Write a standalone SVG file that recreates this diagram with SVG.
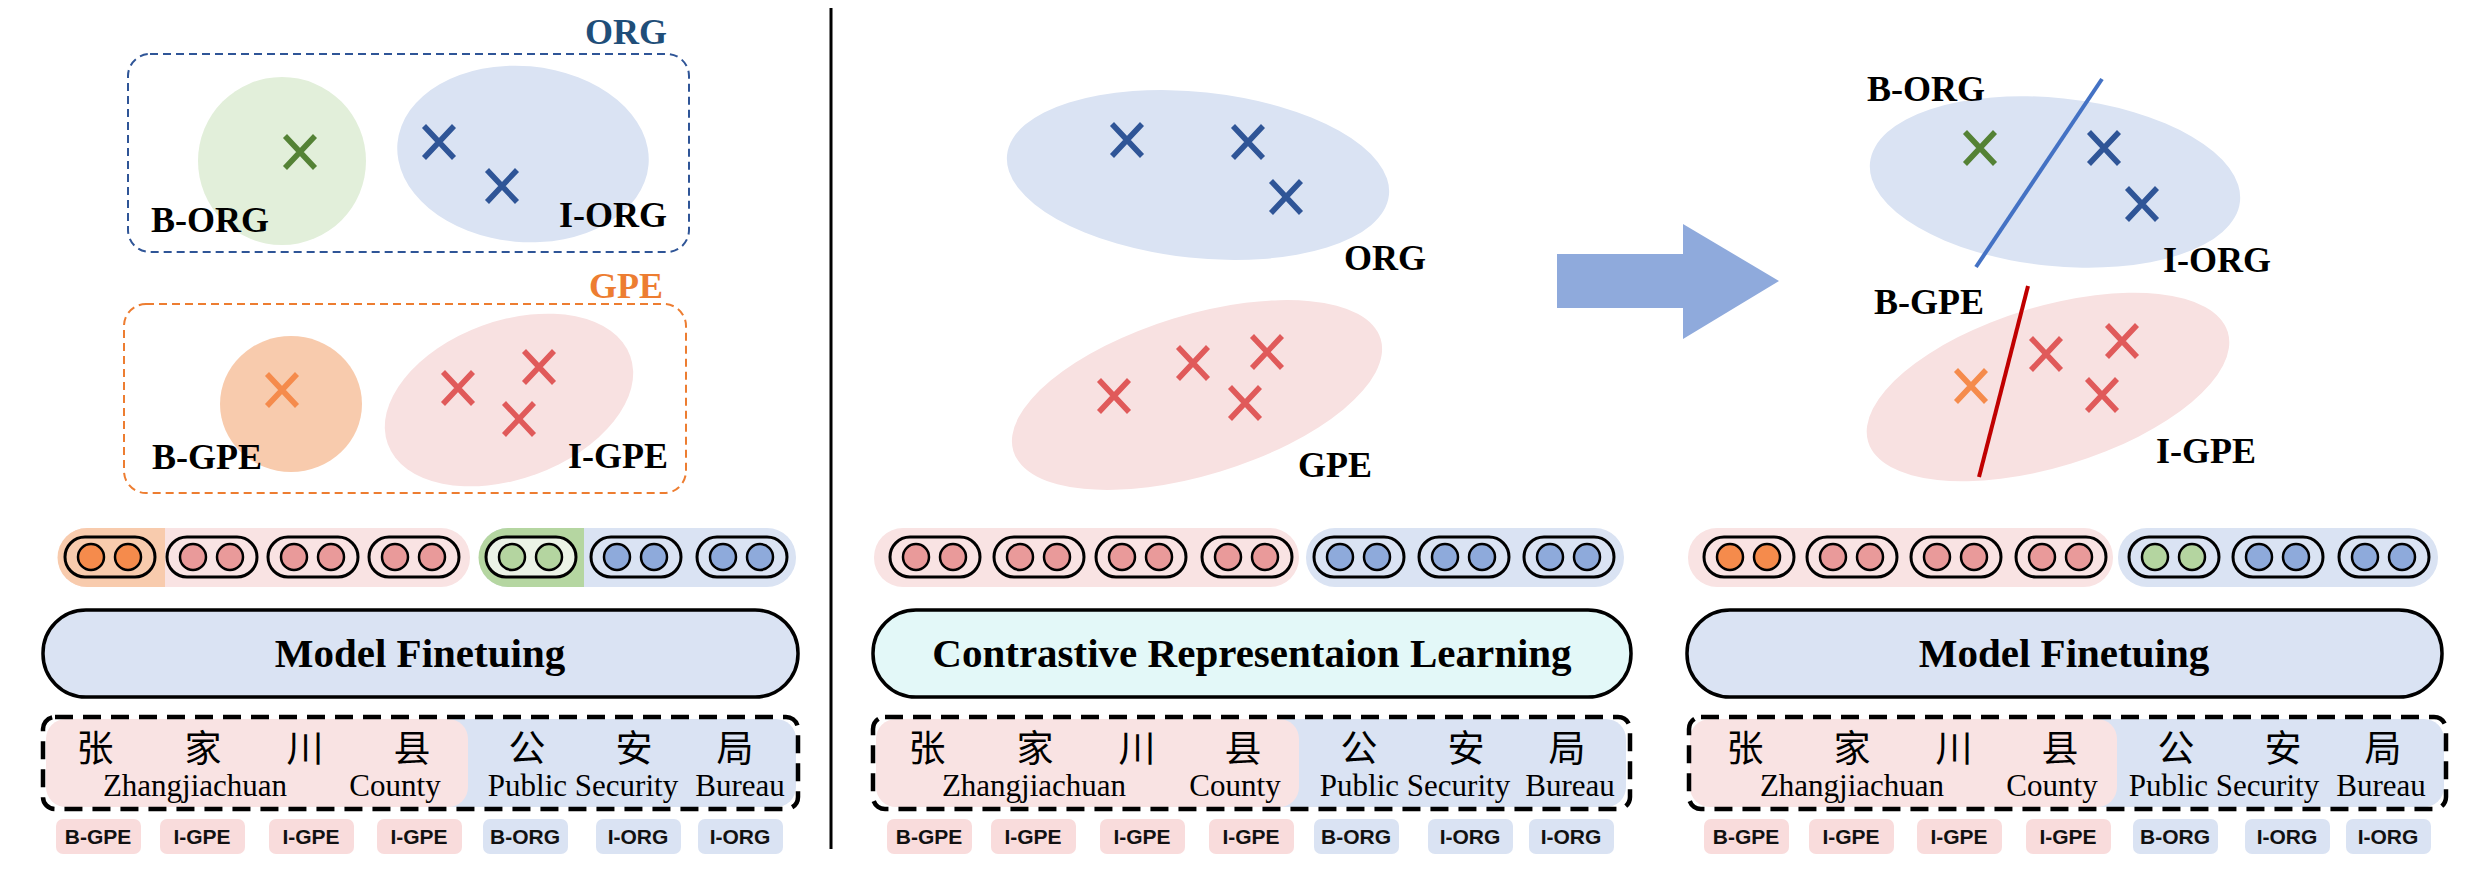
<svg xmlns="http://www.w3.org/2000/svg" width="2475" height="875" viewBox="0 0 2475 875">
<defs>
<style>
.lbl{font-family:"Liberation Serif","Times New Roman",serif;font-weight:bold;font-size:36px;fill:#000}
.big{font-family:"Liberation Serif","Times New Roman",serif;font-weight:bold;font-size:41px;fill:#000;text-anchor:middle}
.cjk{font-family:"Noto Sans CJK SC",sans-serif;font-size:37px;fill:#000;text-anchor:middle}
.en{font-family:"Liberation Serif","Times New Roman",serif;font-size:31px;fill:#000;text-anchor:middle}
.tag{font-family:"Liberation Sans",Arial,sans-serif;font-weight:bold;font-size:21px;fill:#111;text-anchor:middle}
.tp{fill:#f9dcdc}
.tb{fill:#dae3f3}
.cap{fill:none;stroke:#000;stroke-width:3}
.dot{stroke:#000;stroke-width:2.5}
.o{fill:#f58b4c}.p{fill:#e99a9a}.b{fill:#8eaadb}.g{fill:#b4d5a0}
.xg{stroke:#548235}.xb{stroke:#2f5597}.xo{stroke:#f58b4c}.xr{stroke:#e05a5a}
.x{fill:none;stroke-width:5.5}
.model{fill:#dae3f3;stroke:#000;stroke-width:3.5}
.dash{fill:none;stroke:#000;stroke-width:4.5;stroke-dasharray:18 10}
.pinkbg{fill:#f9e3e3}.bluebg{fill:#dae3f3}
</style>
<path id="X" d="M-15,-16 L15,16 M15,-16 L-15,16"/>
</defs>
<rect width="2475" height="875" fill="#fff"/>

<!-- divider -->
<line x1="831" y1="8" x2="831" y2="849" stroke="#000" stroke-width="3"/>

<!-- LEFT PANEL scatter -->
<g id="left-org-cluster">
<text x="667" y="44" class="lbl" text-anchor="end" style="fill:#1f4e79">ORG</text>
<rect x="128" y="54" width="561" height="198" rx="22" fill="none" stroke="#2f5597" stroke-width="2" stroke-dasharray="8 5"/>
<circle cx="282" cy="161" r="84" fill="#e2efda"/>
<ellipse cx="523" cy="154" rx="126" ry="88" fill="#dae3f3" transform="rotate(5 523 154)"/>
<use href="#X" x="300" y="152" class="x xg"/>
<use href="#X" x="439" y="142" class="x xb"/>
<use href="#X" x="502" y="186" class="x xb"/>
<text x="151" y="232" class="lbl">B-ORG</text>
<text x="667" y="227" class="lbl" text-anchor="end">I-ORG</text>
</g>
<g id="left-gpe-cluster">
<text x="663" y="298" class="lbl" text-anchor="end" style="fill:#ed7d31">GPE</text>
<rect x="124" y="304" width="562" height="189" rx="22" fill="none" stroke="#ed7d31" stroke-width="2" stroke-dasharray="8 5"/>
<ellipse cx="291" cy="404" rx="71" ry="68" fill="#f8cbad"/>
<ellipse cx="509" cy="400" rx="129" ry="79" fill="#f8e1e1" transform="rotate(-20 509 400)"/>
<use href="#X" x="282" y="390" class="x xo"/>
<use href="#X" x="458" y="388" class="x xr"/>
<use href="#X" x="539" y="367" class="x xr"/>
<use href="#X" x="519" y="419" class="x xr"/>
<text x="152" y="469" class="lbl">B-GPE</text>
<text x="668" y="468" class="lbl" text-anchor="end">I-GPE</text>
</g>

<!-- LEFT tokens -->
<g id="left-tokens">
<rect x="58" y="528" width="412" height="59" rx="29" class="pinkbg"/>
<path d="M165,528 H87 A29,29 0 0 0 87,587 H165 Z" fill="#f8cbad"/>
<rect x="479" y="528" width="317" height="59" rx="29" class="bluebg"/>
<path d="M584,528 H508 A29,29 0 0 0 508,587 H584 Z" fill="#b5d6a1"/>
<rect x="65" y="537" width="90" height="40" rx="20" class="cap" style="fill:#f8cbad"/>
<circle cx="91" cy="557" r="13" class="dot o"/><circle cx="128" cy="557" r="13" class="dot o"/>
<rect x="167" y="537" width="90" height="40" rx="20" class="cap"/>
<circle cx="193" cy="557" r="13" class="dot p"/><circle cx="230" cy="557" r="13" class="dot p"/>
<rect x="268" y="537" width="90" height="40" rx="20" class="cap"/>
<circle cx="294" cy="557" r="13" class="dot p"/><circle cx="331" cy="557" r="13" class="dot p"/>
<rect x="369" y="537" width="90" height="40" rx="20" class="cap"/>
<circle cx="395" cy="557" r="13" class="dot p"/><circle cx="432" cy="557" r="13" class="dot p"/>
<rect x="486" y="537" width="90" height="40" rx="20" class="cap" style="fill:#ebf3e6"/>
<circle cx="512" cy="557" r="13" class="dot g"/><circle cx="549" cy="557" r="13" class="dot g"/>
<rect x="591" y="537" width="90" height="40" rx="20" class="cap"/>
<circle cx="617" cy="557" r="13" class="dot b"/><circle cx="654" cy="557" r="13" class="dot b"/>
<rect x="697" y="537" width="90" height="40" rx="20" class="cap"/>
<circle cx="723" cy="557" r="13" class="dot b"/><circle cx="760" cy="557" r="13" class="dot b"/>
</g>
<g id="left-model">
<rect x="43" y="610" width="755" height="87" rx="43" class="model"/>
<text x="420" y="667" class="big">Model Finetuing</text>
</g>
<g id="left-input">
<rect x="400" y="719" width="396" height="88" rx="20" class="bluebg"/>
<rect x="46" y="719" width="422" height="88" rx="20" class="pinkbg"/>
<rect x="43" y="717" width="755" height="92" rx="12" class="dash"/>
<text class="cjk" y="762"><tspan x="95">张</tspan><tspan x="203">家</tspan><tspan x="305">川</tspan><tspan x="412">县</tspan><tspan x="527">公</tspan><tspan x="634">安</tspan><tspan x="735">局</tspan></text>
<text class="en" y="796"><tspan x="195">Zhangjiachuan</tspan><tspan x="395">County</tspan><tspan x="583">Public Security</tspan><tspan x="740">Bureau</tspan></text>
</g>
<g id="left-tags">
<rect x="56" y="819" width="85" height="35" rx="7" class="tp"/><text x="98" y="844" class="tag">B-GPE</text>
<rect x="160" y="819" width="85" height="35" rx="7" class="tp"/><text x="202" y="844" class="tag">I-GPE</text>
<rect x="269" y="819" width="85" height="35" rx="7" class="tp"/><text x="311" y="844" class="tag">I-GPE</text>
<rect x="377" y="819" width="85" height="35" rx="7" class="tp"/><text x="419" y="844" class="tag">I-GPE</text>
<rect x="483" y="819" width="85" height="35" rx="7" class="tb"/><text x="525" y="844" class="tag">B-ORG</text>
<rect x="596" y="819" width="85" height="35" rx="7" class="tb"/><text x="638" y="844" class="tag">I-ORG</text>
<rect x="698" y="819" width="85" height="35" rx="7" class="tb"/><text x="740" y="844" class="tag">I-ORG</text>
</g>

<!-- MIDDLE PANEL -->
<g id="mid-org-cluster">
<ellipse cx="1198" cy="175" rx="192" ry="83" fill="#dae3f3" transform="rotate(6 1198 175)"/>
<use href="#X" x="1127" y="140" class="x xb"/>
<use href="#X" x="1248" y="142" class="x xb"/>
<use href="#X" x="1286" y="197" class="x xb"/>
<text x="1344" y="270" class="lbl">ORG</text>
</g>
<g id="mid-gpe-cluster">
<ellipse cx="1197" cy="395" rx="192" ry="80" fill="#f8e1e1" transform="rotate(-17 1197 395)"/>
<use href="#X" x="1114" y="396" class="x xr"/>
<use href="#X" x="1193" y="363" class="x xr"/>
<use href="#X" x="1267" y="352" class="x xr"/>
<use href="#X" x="1245" y="403" class="x xr"/>
<text x="1298" y="477" class="lbl">GPE</text>
</g>
<g id="mid-tokens">
<rect x="874" y="528" width="425" height="59" rx="29" class="pinkbg"/>
<rect x="1306" y="528" width="318" height="59" rx="29" class="bluebg"/>
<rect x="890" y="537" width="90" height="40" rx="20" class="cap"/>
<circle cx="916" cy="557" r="13" class="dot p"/><circle cx="953" cy="557" r="13" class="dot p"/>
<rect x="994" y="537" width="90" height="40" rx="20" class="cap"/>
<circle cx="1020" cy="557" r="13" class="dot p"/><circle cx="1057" cy="557" r="13" class="dot p"/>
<rect x="1096" y="537" width="90" height="40" rx="20" class="cap"/>
<circle cx="1122" cy="557" r="13" class="dot p"/><circle cx="1159" cy="557" r="13" class="dot p"/>
<rect x="1202" y="537" width="90" height="40" rx="20" class="cap"/>
<circle cx="1228" cy="557" r="13" class="dot p"/><circle cx="1265" cy="557" r="13" class="dot p"/>
<rect x="1314" y="537" width="90" height="40" rx="20" class="cap"/>
<circle cx="1340" cy="557" r="13" class="dot b"/><circle cx="1377" cy="557" r="13" class="dot b"/>
<rect x="1419" y="537" width="90" height="40" rx="20" class="cap"/>
<circle cx="1445" cy="557" r="13" class="dot b"/><circle cx="1482" cy="557" r="13" class="dot b"/>
<rect x="1524" y="537" width="90" height="40" rx="20" class="cap"/>
<circle cx="1550" cy="557" r="13" class="dot b"/><circle cx="1587" cy="557" r="13" class="dot b"/>
</g>
<g id="mid-contrastive">
<rect x="873" y="610" width="758" height="87" rx="43" fill="#e3f8f8" stroke="#000" stroke-width="3.5"/>
<text x="1252" y="667" class="big">Contrastive Representaion Learning</text>
</g>
<g id="mid-input">
<rect x="1230" y="719" width="396" height="88" rx="20" class="bluebg"/>
<rect x="876" y="719" width="423" height="88" rx="20" class="pinkbg"/>
<rect x="873" y="717" width="757" height="92" rx="12" class="dash"/>
<text class="cjk" y="762"><tspan x="927">张</tspan><tspan x="1035">家</tspan><tspan x="1137">川</tspan><tspan x="1243">县</tspan><tspan x="1359">公</tspan><tspan x="1466">安</tspan><tspan x="1567">局</tspan></text>
<text class="en" y="796"><tspan x="1034">Zhangjiachuan</tspan><tspan x="1235">County</tspan><tspan x="1415">Public Security</tspan><tspan x="1570">Bureau</tspan></text>
</g>
<g id="mid-tags">
<rect x="887" y="819" width="85" height="35" rx="7" class="tp"/><text x="929" y="844" class="tag">B-GPE</text>
<rect x="991" y="819" width="85" height="35" rx="7" class="tp"/><text x="1033" y="844" class="tag">I-GPE</text>
<rect x="1100" y="819" width="85" height="35" rx="7" class="tp"/><text x="1142" y="844" class="tag">I-GPE</text>
<rect x="1209" y="819" width="85" height="35" rx="7" class="tp"/><text x="1251" y="844" class="tag">I-GPE</text>
<rect x="1314" y="819" width="85" height="35" rx="7" class="tb"/><text x="1356" y="844" class="tag">B-ORG</text>
<rect x="1428" y="819" width="85" height="35" rx="7" class="tb"/><text x="1470" y="844" class="tag">I-ORG</text>
<rect x="1529" y="819" width="85" height="35" rx="7" class="tb"/><text x="1571" y="844" class="tag">I-ORG</text>
</g>

<!-- connectors -->
<g id="connectors">
<path d="M1557,254 H1683 V224 L1779,281 L1683,339 V308 H1557 Z" fill="#8faadc"/>
</g>

<!-- RIGHT PANEL -->
<g id="right-org-cluster">
<ellipse cx="2055" cy="182" rx="186" ry="84" fill="#dae3f3" transform="rotate(6 2055 182)"/>
<line x1="2102" y1="79" x2="1976" y2="267" stroke="#4472c4" stroke-width="4"/>
<use href="#X" x="1980" y="148" class="x xg"/>
<use href="#X" x="2104" y="148" class="x xb"/>
<use href="#X" x="2142" y="204" class="x xb"/>
<text x="1867" y="101" class="lbl">B-ORG</text>
<text x="2163" y="272" class="lbl">I-ORG</text>
</g>
<g id="right-gpe-cluster">
<ellipse cx="2048" cy="387" rx="188" ry="80" fill="#f8e1e1" transform="rotate(-17 2048 387)"/>
<line x1="2028" y1="286" x2="1979" y2="477" stroke="#c00000" stroke-width="4"/>
<use href="#X" x="1971" y="386" class="x xo"/>
<use href="#X" x="2046" y="354" class="x xr"/>
<use href="#X" x="2122" y="341" class="x xr"/>
<use href="#X" x="2102" y="395" class="x xr"/>
<text x="1874" y="314" class="lbl">B-GPE</text>
<text x="2156" y="463" class="lbl">I-GPE</text>
</g>
<g id="right-tokens">
<rect x="1688" y="528" width="425" height="59" rx="29" class="pinkbg"/>
<rect x="2118" y="528" width="320" height="59" rx="29" class="bluebg"/>
<rect x="1704" y="537" width="90" height="40" rx="20" class="cap"/>
<circle cx="1730" cy="557" r="13" class="dot o"/><circle cx="1767" cy="557" r="13" class="dot o"/>
<rect x="1807" y="537" width="90" height="40" rx="20" class="cap"/>
<circle cx="1833" cy="557" r="13" class="dot p"/><circle cx="1870" cy="557" r="13" class="dot p"/>
<rect x="1911" y="537" width="90" height="40" rx="20" class="cap"/>
<circle cx="1937" cy="557" r="13" class="dot p"/><circle cx="1974" cy="557" r="13" class="dot p"/>
<rect x="2016" y="537" width="90" height="40" rx="20" class="cap"/>
<circle cx="2042" cy="557" r="13" class="dot p"/><circle cx="2079" cy="557" r="13" class="dot p"/>
<rect x="2129" y="537" width="90" height="40" rx="20" class="cap"/>
<circle cx="2155" cy="557" r="13" class="dot g"/><circle cx="2192" cy="557" r="13" class="dot g"/>
<rect x="2233" y="537" width="90" height="40" rx="20" class="cap"/>
<circle cx="2259" cy="557" r="13" class="dot b"/><circle cx="2296" cy="557" r="13" class="dot b"/>
<rect x="2339" y="537" width="90" height="40" rx="20" class="cap"/>
<circle cx="2365" cy="557" r="13" class="dot b"/><circle cx="2402" cy="557" r="13" class="dot b"/>
</g>
<g id="right-model">
<rect x="1687" y="610" width="755" height="87" rx="43" class="model"/>
<text x="2064" y="667" class="big">Model Finetuing</text>
</g>
<g id="right-input">
<rect x="2048" y="719" width="396" height="88" rx="20" class="bluebg"/>
<rect x="1690" y="719" width="427" height="88" rx="20" class="pinkbg"/>
<rect x="1689" y="717" width="757" height="92" rx="12" class="dash"/>
<text class="cjk" y="762"><tspan x="1745">张</tspan><tspan x="1852">家</tspan><tspan x="1954">川</tspan><tspan x="2060">县</tspan><tspan x="2176">公</tspan><tspan x="2283">安</tspan><tspan x="2383">局</tspan></text>
<text class="en" y="796"><tspan x="1852">Zhangjiachuan</tspan><tspan x="2052">County</tspan><tspan x="2224">Public Security</tspan><tspan x="2381">Bureau</tspan></text>
</g>
<g id="right-tags">
<rect x="1704" y="819" width="85" height="35" rx="7" class="tp"/><text x="1746" y="844" class="tag">B-GPE</text>
<rect x="1809" y="819" width="85" height="35" rx="7" class="tp"/><text x="1851" y="844" class="tag">I-GPE</text>
<rect x="1917" y="819" width="85" height="35" rx="7" class="tp"/><text x="1959" y="844" class="tag">I-GPE</text>
<rect x="2026" y="819" width="85" height="35" rx="7" class="tp"/><text x="2068" y="844" class="tag">I-GPE</text>
<rect x="2133" y="819" width="85" height="35" rx="7" class="tb"/><text x="2175" y="844" class="tag">B-ORG</text>
<rect x="2245" y="819" width="85" height="35" rx="7" class="tb"/><text x="2287" y="844" class="tag">I-ORG</text>
<rect x="2346" y="819" width="85" height="35" rx="7" class="tb"/><text x="2388" y="844" class="tag">I-ORG</text>
</g>
</svg>
